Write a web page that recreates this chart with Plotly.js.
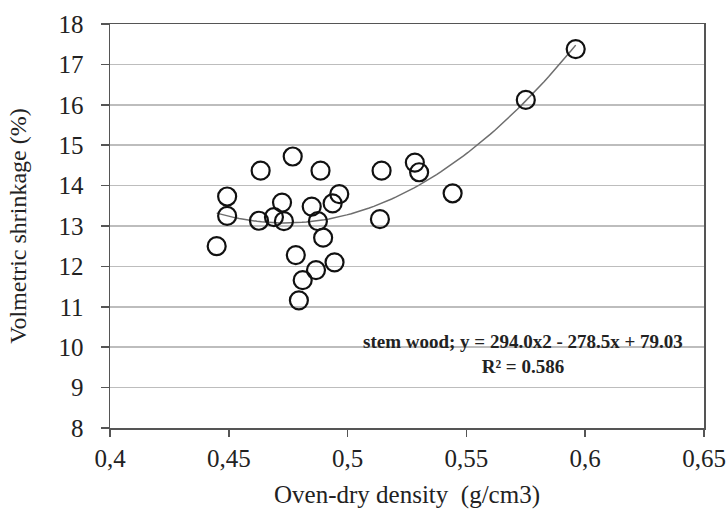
<!DOCTYPE html>
<html>
<head>
<meta charset="utf-8">
<script src="https://cdn.plot.ly/plotly-3.0.1.min.js"></script>
<style>html,body{margin:0;padding:0;background:#fff;}#chart{width:728px;height:509px;}</style>
</head>
<body>
<div id="chart"></div>
<script>
// Oven-dry density (g/cm3)
var density = [0.4769, 0.4634, 0.4886, 0.5143, 0.4493, 0.4965, 0.4937, 0.4724, 0.4849, 0.4493,
               0.4627, 0.4690, 0.4732, 0.4875, 0.5136, 0.4449, 0.4897, 0.4782, 0.4945, 0.4867,
               0.4811, 0.4795, 0.5283, 0.5301, 0.5442, 0.5750, 0.5960];
// Volumetric shrinkage (%)
var shrinkage = [14.72, 14.37, 14.37, 14.37, 13.73, 13.79, 13.56, 13.58, 13.48, 13.25,
                 13.13, 13.22, 13.12, 13.12, 13.17, 12.50, 12.71, 12.28, 12.10, 11.91,
                 11.66, 11.16, 14.57, 14.33, 13.81, 16.12, 17.38];
// Polynomial trendline coefficients shown on the chart: y = a x^2 + b x + c
var trendCoef = [294.0, -278.5, 79.03];
var xTickVals = [0.4, 0.45, 0.5, 0.55, 0.6, 0.65];
var xTickText = ['0,4', '0,45', '0,5', '0,55', '0,6', '0,65'];
var yTickVals = [8, 9, 10, 11, 12, 13, 14, 15, 16, 17, 18];
var annotationText = 'stem wood; y = 294.0x2 - 278.5x + 79.03<br>R² = 0.586';

var xmin = Math.min.apply(null, density), xmax = Math.max.apply(null, density);
var tx = [], ty = [];
var steps = 80;
for (var i = 0; i <= steps; i++) {
  var x = xmin + (xmax - xmin) * i / steps;
  tx.push(x);
  ty.push(trendCoef[0] * x * x + trendCoef[1] * x + trendCoef[2]);
}

var serif = 'Liberation Serif, Times New Roman, serif';

var traces = [
  {x: tx, y: ty, mode: 'lines', type: 'scatter', line: {color: '#6e6e6e', width: 1.5}, hoverinfo: 'skip', showlegend: false},
  {x: density, y: shrinkage, mode: 'markers', type: 'scatter',
   marker: {symbol: 'circle-open', size: 18, color: '#111', line: {width: 2.2, color: '#111'}}, showlegend: false}
];

var layout = {
  width: 728, height: 509,
  margin: {l: 110, r: 24, t: 24, b: 81},
  paper_bgcolor: '#fff', plot_bgcolor: '#fff',
  font: {family: serif, color: '#222', size: 24},
  xaxis: {
    range: [0.4, 0.65], tickvals: xTickVals, ticktext: xTickText,
    showgrid: false, zeroline: false, automargin: false,
    showline: true, linecolor: '#555', linewidth: 1.5, mirror: true,
    ticks: 'outside', ticklen: 7, tickcolor: '#555', tickwidth: 1.5,
    tickfont: {family: serif, size: 25, color: '#222'},
    title: {text: 'Oven-dry density&nbsp;&nbsp;(g/cm3)', font: {family: serif, size: 25, color: '#222'}, standoff: 15}
  },
  yaxis: {
    range: [8, 18], tickvals: yTickVals, automargin: false,
    showgrid: true, gridcolor: '#bdbdbd', gridwidth: 1.5, zeroline: false,
    showline: true, linecolor: '#555', linewidth: 1.5, mirror: true,
    ticks: 'outside', ticklen: 8, tickcolor: '#555', tickwidth: 1.5, ticklabelstandoff: 12,
    tickfont: {family: serif, size: 25, color: '#222'},
    title: {text: 'Volmetric shrinkage (%)', font: {family: serif, size: 24, color: '#222'}, standoff: 25}
  },
  annotations: [{
    x: 0.5738, y: 9.83, xref: 'x', yref: 'y', showarrow: false,
    text: annotationText, align: 'center',
    font: {family: serif, size: 19, color: '#222', weight: 'bold'}
  }]
};

Plotly.newPlot('chart', traces, layout, {displayModeBar: false, staticPlot: true});
</script>
</body>
</html>
